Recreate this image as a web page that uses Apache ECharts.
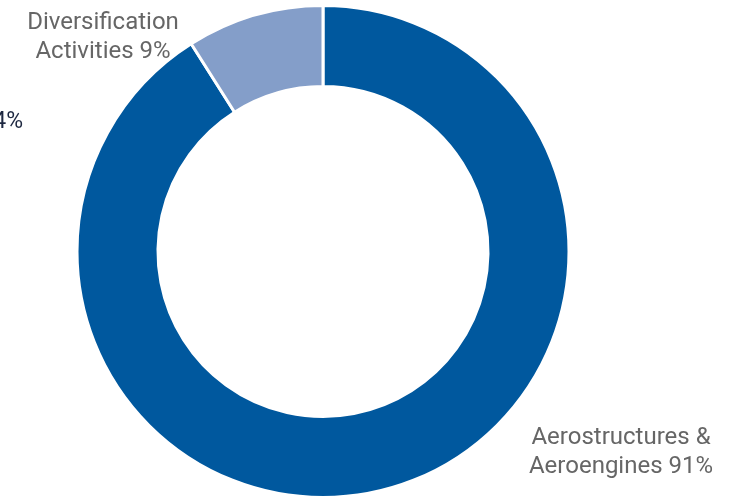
<!DOCTYPE html>
<html>
<head>
    <meta charset="utf-8">
    <title>Segments</title>
    <script src="https://cdn.jsdelivr.net/npm/echarts@6/dist/echarts.min.js"></script>
    <style>
        html, body { margin: 0; padding: 0; background: #fff; }
        #main { width: 741px; height: 499px; }
    </style>
</head>
<body>
<div id="main"></div>
<script type="text/javascript">
    var segmentNames = ['Aerostructures &\nAeroengines', 'Diversification\nActivities'];
    var segmentShares = [91, 9];
    var segmentColors = ['#00589e', '#849ec9'];

    // where each label sits (centre of the text block)
    var labelSpots = [[621, 452], [103, 37]];

    var data = segmentNames.map(function (name, i) {
        return {
            name: name,
            value: segmentShares[i],
            itemStyle: {color: segmentColors[i]}
        };
    });

    var chart = echarts.init(document.getElementById('main'));
    chart.setOption({
        animation: false,
        textStyle: {fontFamily: 'Roboto'},
        graphic: [{
            type: 'text',
            style: {
                x: 23,
                y: 122,
                text: '14%',
                align: 'right',
                verticalAlign: 'middle',
                fontFamily: 'Roboto',
                fontSize: 23,
                fill: '#1d2740'
            }
        }],
        series: [{
            type: 'pie',
            center: [323, 251.5],
            radius: [165, 246],
            startAngle: 90,
            clockwise: true,
            itemStyle: {borderColor: '#fff', borderWidth: 3},
            label: {
                show: true,
                formatter: '{b} {c}%',
                color: '#666',
                fontSize: 24,
                lineHeight: 29,
                align: 'center'
            },
            labelLine: {show: false},
            labelLayout: function (p) {
                var s = labelSpots[p.dataIndex];
                return {x: s[0], y: s[1], align: 'center', verticalAlign: 'middle'};
            },
            emphasis: {disabled: true},
            data: data
        }]
    });
</script>
</body>
</html>
